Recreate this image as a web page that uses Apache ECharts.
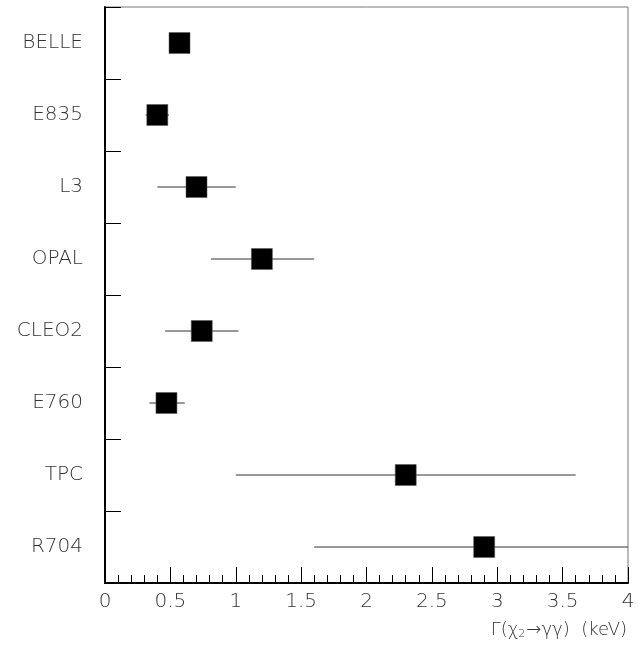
<!DOCTYPE html>
<html><head><meta charset="utf-8">
<script src="https://cdn.jsdelivr.net/npm/echarts@6/dist/echarts.min.js"></script>
<style>html,body{margin:0;padding:0;background:#fff}#c{width:638px;height:647px}</style>
</head><body><div id="c"></div>
<script>
const categories = ['BELLE','E835','L3','OPAL','CLEO2','E760','TPC','R704'];
const values     = [0.57, 0.40, 0.70, 1.20, 0.74, 0.47, 2.30, 2.90];
const errLow     = [0.55, 0.31, 0.40, 0.81, 0.46, 0.34, 1.00, 1.60];
const errHigh    = [0.59, 0.49, 1.00, 1.60, 1.02, 0.61, 3.60, 4.20];
const xTicks     = [0, 0.5, 1, 1.5, 2, 2.5, 3, 3.5, 4];

const font = 'DejaVu Sans';
const chart = echarts.init(document.getElementById('c'), null, {renderer:'canvas'});
chart.setOption({
  animation:false,
  backgroundColor:'#fff',
  grid:{left:105,right:10,top:7,bottom:64,show:true,borderColor:'#777',borderWidth:1,backgroundColor:'transparent'},
  xAxis:{
    type:'value',min:0,max:4,interval:0.5,
    axisLine:{show:true,onZero:false,lineStyle:{color:'#000',width:2}},
    axisTick:{show:true,inside:true,length:16,lineStyle:{color:'#000',width:1}},
    minorTick:{show:true,splitNumber:5,length:8,lineStyle:{color:'#000',width:1}},
    splitLine:{show:false},
    axisLabel:{margin:9,fontFamily:font,fontWeight:200,fontSize:20,color:'#333',
      formatter:v=>{const t=xTicks.find(x=>Math.abs(x-v)<1e-9);return t===undefined?'':String(t);}}
  },
  yAxis:{
    type:'category',data:categories,inverse:true,boundaryGap:true,
    axisLine:{show:true,lineStyle:{color:'#000',width:2}},
    axisTick:{show:true,inside:true,length:16,interval:0,lineStyle:{color:'#000',width:1}},
    splitLine:{show:false},
    axisLabel:{margin:22,fontFamily:font,fontWeight:200,fontSize:20,color:'#333',interval:0}
  },
  graphic:[{
    type:'text',right:11,top:621,
    style:{
      text:'{a|Γ(χ}{s|2}{a|→γγ)  (keV)}',
      rich:{
        a:{fontFamily:font,fontWeight:200,fontSize:18,fill:'#333'},
        s:{fontFamily:font,fontWeight:200,fontSize:11,fill:'#333',verticalAlign:'bottom',padding:[8,1,0,0]}
      }
    }
  }],
  series:[
    {
      type:'custom',
      data:categories.map((c,i)=>[errLow[i],errHigh[i],i]),
      clip:true,
      renderItem:(params,api)=>{
        const p1=api.coord([api.value(0),api.value(2)]);
        const p2=api.coord([api.value(1),api.value(2)]);
        return {type:'line',shape:{x1:p1[0],y1:p1[1],x2:p2[0],y2:p2[1]},
          style:{stroke:'#333',lineWidth:1}};
      },
      z:2
    },
    {
      type:'scatter',
      data:categories.map((c,i)=>[values[i],i]),
      symbol:'rect',symbolSize:21,
      itemStyle:{color:'#000',borderColor:'#555',borderWidth:0.5,opacity:1},
      z:3
    }
  ]
});
</script></body></html>
